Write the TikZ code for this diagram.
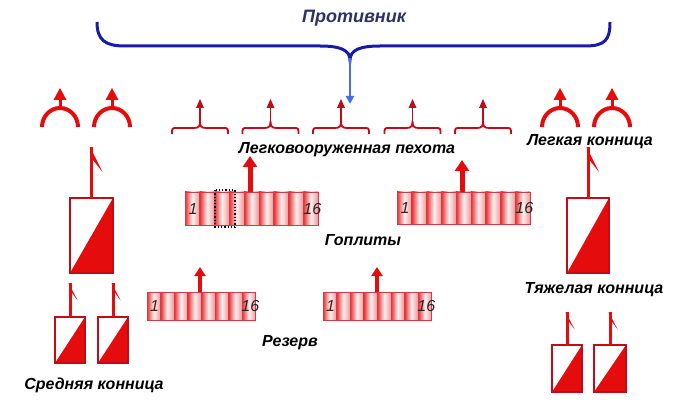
\documentclass[tikz,border=0pt]{standalone}
\usepackage{fontspec}
\setmainfont{Liberation Sans}
\usetikzlibrary{arrows.meta}
\definecolor{rd}{RGB}{228,12,12}
\definecolor{drd}{RGB}{195,10,25}
\definecolor{navy}{RGB}{25,25,170}
\definecolor{ltblue}{RGB}{70,110,230}
\definecolor{titlecol}{RGB}{45,50,100}
\tikzset{
  lbl/.style={font=\bfseries\itshape\fontsize{16}{16}\selectfont, text=black, inner sep=0pt},
  num/.style={font=\itshape\fontsize{16}{16}\selectfont, text=black!85, inner sep=0pt},
  bigarrow/.style={rd, line width=5pt, -{Triangle[width=14pt,length=11pt]}},
  midarrow/.style={rd, line width=4pt, -{Triangle[width=11pt,length=9pt]}}
}
% cavalry unit: x, y(top), w, h, staff length, flag scale
\newcommand\CavUnit[6]{%
\begin{scope}[shift={(#1,#2)}]
\fill[rd] (0,#4) -- (#3,#4) -- (#3,0) -- cycle;
\draw[drd, line width=2pt] (0,0) rectangle (#3,#4);
\draw[rd, line width=3pt] (#3/2,0) -- (#3/2,-#5);
\fill[rd] (#3/2-1.5,-#5) -- (#3/2+11*#6,-#5+25*#6) -- (#3/2+1.5,-#5+13*#6) -- cycle;
\end{scope}}
% light cavalry arch: cx, feet y
\newcommand\ArchUnit[2]{%
\begin{scope}[shift={(#1,#2)}]
\draw[rd, line width=4pt] (-18,0) arc[start angle=180,end angle=360,x radius=18,y radius=19];
\draw[rd, line width=3pt] (0,-19) -- (0,-29);
\fill[rd] (-6.5,-27) -- (0,-39) -- (6.5,-27) -- cycle;
\end{scope}}
% light infantry bracket: cx
\newcommand\BrkUnit[1]{%
\begin{scope}[shift={(#1,0)}]
\draw[drd, line width=1.8pt, line join=round] (-28,134) .. controls (-28,128) .. (-23,128) -- (-6,128) .. controls (-1,128) and (0,126) .. (0,121) .. controls (0,126) and (1,128) .. (6,128) -- (23,128) .. controls (28,128) .. (28,134);
\draw[drd, line width=1.8pt] (0,121) -- (0,106);
\fill[drd] (-4,108) -- (0,99) -- (4,108) -- cycle;
\end{scope}}
% phalanx block: x, y, cell width, height, cells
\newcommand\Phalanx[5]{%
\begin{scope}[shift={(#1,#2)}]
\foreach \i in {1,...,#5} {
  \shade[left color=rd!85, right color=rd!45, middle color=rd!6] ({(\i-1)*#3},0) rectangle ({\i*#3},#4);
  \draw[drd!80, line width=0.7pt] ({(\i-1)*#3},0) -- ({(\i-1)*#3},#4);
}
\draw[drd!80, line width=0.8pt] (0,0) rectangle ({#5*#3},#4);
\node[num] at (0.55*#3,#4/2) {1};
\node[num] at ({(#5-0.4)*#3},#4/2) {16};
\end{scope}}
\begin{document}
\begin{tikzpicture}[x=1pt,y=-1pt]
\useasboundingbox (0,0) rectangle (700,403);
\fill[white] (0,0) rectangle (700,403);
% enemy
\node[font=\bfseries\itshape\fontsize{18}{18}\selectfont, text=titlecol, inner sep=0pt] (enemy) at (354,18) {Противник};
\draw[navy, line width=3pt] (97,22) .. controls (97,40) and (105,46) .. (125,46) -- (320,46) .. controls (340,46) and (350,50) .. (350,60) .. controls (350,50) and (360,46) .. (380,46) -- (585,46) .. controls (605,46) and (610,40) .. (610,22);
\coordinate (cusp) at (350,58);
\coordinate (tip) at (350,104);
\draw[ltblue, line width=2.5pt, -{Triangle[width=8pt,length=8pt]}] (cusp) -- (tip);
% light cavalry arches
\ArchUnit{60}{127}
\ArchUnit{112}{127}
\ArchUnit{560}{127}
\ArchUnit{612}{127}
% light infantry
\BrkUnit{200}
\BrkUnit{270.5}
\BrkUnit{341}
\BrkUnit{412.5}
\BrkUnit{483}
\node[lbl] (inf) at (347,150) {Легковооруженная пехота};
\node[lbl] (lcav) at (590,142) {Легкая конница};
% hoplites
\Phalanx{185}{192}{14.8}{33}{9}
\Phalanx{397}{192}{14.8}{32}{9}
\draw[black, dotted, line width=1.3pt] (215,190) rectangle (235,227);
\coordinate (h1) at (250,192); \coordinate (h1t) at (250,156);
\coordinate (h2) at (462,192); \coordinate (h2t) at (462,160);
\draw[bigarrow] (h1) -- (h1t);
\draw[bigarrow] (h2) -- (h2t);
\node[lbl] (hop) at (363,240) {Гоплиты};
% reserve
\Phalanx{147}{292}{13.6}{28}{8}
\Phalanx{323}{292}{13.6}{28}{8}
\coordinate (r1) at (200,292); \coordinate (r1t) at (200,267);
\coordinate (r2) at (377,292); \coordinate (r2t) at (377,267);
\draw[midarrow] (r1) -- (r1t);
\draw[midarrow] (r2) -- (r2t);
\node[lbl] (res) at (290,343) {Резерв};
% cavalry
\CavUnit{70}{198}{43}{75}{51}{1}
\CavUnit{567}{198}{42}{75}{51}{1}
\CavUnit{55}{317}{30}{46}{34}{0.7}
\CavUnit{98}{317}{30}{46}{34}{0.7}
\CavUnit{552}{345}{30}{47}{33}{0.7}
\CavUnit{594}{345}{32}{47}{33}{0.7}
\node[lbl] (mcav) at (94,385) {Средняя конница};
\node[lbl] (hcav) at (594,290) {Тяжелая конница};
\end{tikzpicture}
\end{document}
